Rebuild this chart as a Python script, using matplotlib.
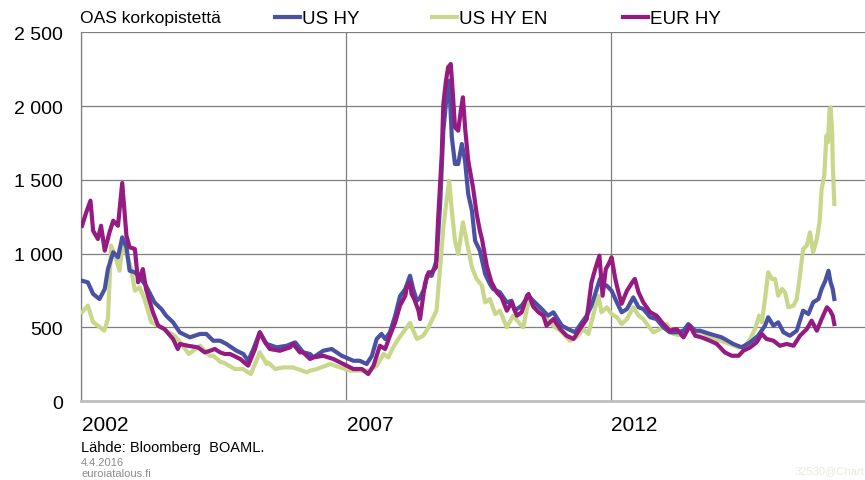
import numpy as np
import matplotlib.pyplot as plt
from matplotlib.lines import Line2D
from matplotlib.ticker import FuncFormatter

plt.rcParams['font.family'] = ['Liberation Sans', 'DejaVu Sans']

# OAS spreads, basis points, x = decimal year
us_hy_t = [2002.01, 2002.12, 2002.22, 2002.34, 2002.44, 2002.50, 2002.60, 2002.69, 2002.77, 2002.85,
           2002.91, 2003.01, 2003.10, 2003.22, 2003.38, 2003.51, 2003.60, 2003.73, 2003.86, 2004.05,
           2004.24, 2004.36, 2004.49, 2004.62, 2004.74, 2004.93, 2005.06, 2005.15, 2005.25, 2005.37,
           2005.50, 2005.69, 2005.88, 2006.04, 2006.19, 2006.32, 2006.38, 2006.57, 2006.73, 2006.92,
           2007.14, 2007.26, 2007.39, 2007.49, 2007.58, 2007.67, 2007.74, 2007.83, 2007.93, 2008.02,
           2008.12, 2008.21, 2008.27, 2008.34, 2008.40, 2008.49, 2008.53, 2008.62, 2008.71, 2008.78,
           2008.84, 2008.90, 2008.95, 2009.00, 2009.06, 2009.12, 2009.19, 2009.25, 2009.31, 2009.38,
           2009.44, 2009.53, 2009.63, 2009.72, 2009.78, 2009.85, 2009.91, 2010.04, 2010.13, 2010.19,
           2010.32, 2010.45, 2010.57, 2010.70, 2010.82, 2010.92, 2011.08, 2011.20, 2011.33, 2011.46,
           2011.55, 2011.64, 2011.74, 2011.80, 2011.86, 2011.93, 2012.02, 2012.12, 2012.21, 2012.31,
           2012.43, 2012.53, 2012.62, 2012.75, 2012.87, 2013.00, 2013.12, 2013.25, 2013.38, 2013.47,
           2013.60, 2013.69, 2013.88, 2014.10, 2014.32, 2014.48, 2014.64, 2014.79, 2014.92, 2014.98,
           2015.08, 2015.17, 2015.27, 2015.39, 2015.52, 2015.64, 2015.74, 2015.83, 2015.93, 2015.99,
           2016.06, 2016.12, 2016.16, 2016.20, 2016.23]
us_hy = [816, 805, 726, 692, 760, 895, 1009, 975, 1110, 1043,
         884, 873, 839, 782, 669, 624, 579, 534, 465, 432,
         455, 455, 409, 409, 387, 341, 319, 273, 353, 466,
         387, 364, 375, 398, 330, 319, 296, 341, 353, 307,
         273, 273, 251, 307, 421, 455, 421, 466, 579, 710,
         760, 850, 760, 680, 700, 771, 850, 850, 952, 1336,
         1834, 2060, 2173, 1789, 1608, 1608, 1743, 1630, 1404, 1291,
         1087, 1020, 862, 794, 760, 748, 737, 669, 680, 613,
         647, 714, 669, 624, 579, 602, 511, 488, 466, 534,
         579, 647, 760, 828, 794, 782, 748, 669, 602, 624,
         703, 636, 624, 568, 556, 500, 466, 466, 477, 522,
         477, 477, 455, 432, 387, 364, 398, 443, 511, 568,
         511, 534, 466, 443, 477, 613, 590, 669, 692, 760,
         816, 884, 805, 760, 692]

us_hy_en_t = [2002.01, 2002.12, 2002.22, 2002.31, 2002.43, 2002.50, 2002.56, 2002.63, 2002.72, 2002.78,
              2002.85, 2002.94, 2003.01, 2003.10, 2003.19, 2003.32, 2003.45, 2003.60, 2003.76, 2003.89,
              2004.03, 2004.20, 2004.24, 2004.42, 2004.49, 2004.64, 2004.68, 2004.90, 2005.05, 2005.20,
              2005.28, 2005.37, 2005.50, 2005.53, 2005.66, 2005.81, 2006.00, 2006.26, 2006.32, 2006.45,
              2006.70, 2006.89, 2007.08, 2007.26, 2007.45, 2007.58, 2007.71, 2007.80, 2007.89, 2007.99,
              2008.08, 2008.21, 2008.34, 2008.40, 2008.46, 2008.56, 2008.71, 2008.78, 2008.84, 2008.90,
              2008.95, 2009.00, 2009.06, 2009.12, 2009.21, 2009.28, 2009.38, 2009.47, 2009.57, 2009.63,
              2009.72, 2009.82, 2009.91, 2010.04, 2010.16, 2010.29, 2010.35, 2010.45, 2010.54, 2010.67,
              2010.79, 2010.92, 2011.05, 2011.17, 2011.23, 2011.30, 2011.36, 2011.49, 2011.58, 2011.67,
              2011.77, 2011.83, 2011.93, 2012.02, 2012.12, 2012.21, 2012.31, 2012.43, 2012.53, 2012.62,
              2012.71, 2012.81, 2012.94, 2013.06, 2013.19, 2013.35, 2013.47, 2013.60, 2013.75, 2013.91,
              2014.07, 2014.26, 2014.42, 2014.54, 2014.64, 2014.73, 2014.81, 2014.86, 2014.92, 2014.98,
              2015.05, 2015.11, 2015.17, 2015.24, 2015.30, 2015.36, 2015.46, 2015.52, 2015.58, 2015.64,
              2015.71, 2015.77, 2015.83, 2015.90, 2015.95, 2015.99, 2016.04, 2016.08, 2016.11, 2016.14,
              2016.16, 2016.19, 2016.20, 2016.23]
us_hy_en = [602, 647, 534, 511, 477, 556, 1054, 986, 884, 1077,
            997, 895, 748, 771, 692, 534, 511, 477, 443, 387,
            319, 364, 375, 307, 307, 262, 262, 217, 217, 183,
            251, 330, 251, 262, 217, 228, 228, 195, 206, 217,
            251, 228, 206, 206, 206, 240, 319, 296, 364, 421,
            466, 530, 421, 432, 443, 500, 613, 907, 1178, 1359,
            1495, 1291, 1087, 997, 1212, 1087, 907, 828, 782, 669,
            692, 590, 613, 500, 579, 522, 500, 680, 647, 610,
            556, 511, 477, 432, 409, 421, 432, 488, 455, 579,
            714, 602, 636, 590, 568, 522, 556, 636, 579, 556,
            511, 466, 488, 522, 455, 443, 511, 466, 466, 421,
            409, 387, 364, 375, 421, 488, 579, 534, 692, 873,
            828, 828, 714, 760, 737, 636, 647, 692, 850, 1031,
            1054, 1144, 1009, 1099, 1212, 1438, 1528, 1800, 1755, 1981,
            1992, 1823, 1619, 1336]

eur_hy_t = [2002.01, 2002.09, 2002.17, 2002.22, 2002.31, 2002.37, 2002.44, 2002.53, 2002.60, 2002.69,
            2002.77, 2002.85, 2002.91, 2003.01, 2003.07, 2003.16, 2003.22, 2003.35, 2003.45, 2003.57,
            2003.73, 2003.82, 2003.86, 2004.01, 2004.20, 2004.33, 2004.43, 2004.52, 2004.62, 2004.71,
            2004.81, 2005.00, 2005.15, 2005.28, 2005.37, 2005.47, 2005.56, 2005.75, 2005.94, 2006.00,
            2006.13, 2006.19, 2006.32, 2006.38, 2006.57, 2006.76, 2006.95, 2007.14, 2007.30, 2007.42,
            2007.52, 2007.64, 2007.74, 2007.83, 2007.93, 2008.02, 2008.12, 2008.15, 2008.21, 2008.24,
            2008.29, 2008.37, 2008.40, 2008.49, 2008.56, 2008.62, 2008.70, 2008.74, 2008.81, 2008.84,
            2008.89, 2008.93, 2008.98, 2009.02, 2009.06, 2009.12, 2009.17, 2009.21, 2009.25, 2009.31,
            2009.40, 2009.47, 2009.53, 2009.57, 2009.66, 2009.75, 2009.85, 2009.94, 2010.04, 2010.13,
            2010.23, 2010.32, 2010.42, 2010.45, 2010.54, 2010.64, 2010.73, 2010.79, 2010.92, 2011.05,
            2011.17, 2011.30, 2011.42, 2011.55, 2011.64, 2011.71, 2011.79, 2011.85, 2011.91, 2011.98,
            2012.02, 2012.09, 2012.15, 2012.21, 2012.31, 2012.43, 2012.46, 2012.53, 2012.62, 2012.75,
            2012.87, 2013.00, 2013.12, 2013.25, 2013.38, 2013.50, 2013.60, 2013.72, 2013.88, 2014.01,
            2014.16, 2014.29, 2014.42, 2014.51, 2014.64, 2014.76, 2014.86, 2014.95, 2015.08, 2015.20,
            2015.33, 2015.46, 2015.58, 2015.71, 2015.80, 2015.90, 2015.99, 2016.09, 2016.15, 2016.20,
            2016.23]
eur_hy = [1189, 1280, 1359, 1155, 1099, 1189, 1020, 1144, 1223, 1189,
          1479, 1121, 1043, 1031, 805, 895, 760, 602, 511, 488,
          421, 353, 387, 375, 364, 330, 341, 353, 330, 319,
          319, 285, 240, 353, 466, 398, 353, 341, 364, 387,
          330, 330, 285, 296, 307, 285, 251, 217, 217, 183,
          240, 375, 353, 443, 534, 647, 714, 771, 805, 726,
          692, 613, 556, 794, 873, 873, 907, 1223, 1676, 2015,
          2173, 2264, 2286, 2083, 1857, 1834, 1969, 2060, 1857, 1630,
          1450, 1269, 1155, 1099, 918, 805, 737, 703, 613, 669,
          579, 602, 714, 726, 640, 602, 579, 511, 556, 488,
          443, 421, 488, 556, 805, 895, 986, 714, 895, 941,
          975, 828, 737, 660, 748, 816, 828, 737, 669, 602,
          579, 522, 477, 488, 432, 511, 443, 432, 409, 387,
          330, 307, 307, 341, 364, 398, 455, 421, 409, 375,
          387, 375, 443, 488, 545, 477, 556, 636, 613, 579,
          522]

labels = ['US HY', 'US HY EN', 'EUR HY']
colors = ['#4A51A3', '#C9D78B', '#951A82']
yticks = [0, 500, 1000, 1500, 2000, 2500]
year_labels = [2002, 2007, 2012]

fig = plt.figure(figsize=(8.65, 4.81), dpi=100)
ax = fig.add_axes([0.0942, 0.1642, 0.9058, 0.7662])

ax.plot(us_hy_en_t, us_hy_en, color=colors[1], lw=3.0, zorder=3, solid_joinstyle='round')
ax.plot(us_hy_t, us_hy, color=colors[0], lw=3.0, zorder=4, solid_joinstyle='round')
ax.plot(eur_hy_t, eur_hy, color=colors[2], lw=3.0, zorder=5, solid_joinstyle='round')

ax.set_xlim(2002, 2016.81)
ax.set_ylim(0, 2500)
ax.set_yticks(yticks)
ax.yaxis.set_major_formatter(FuncFormatter(lambda v, p: f'{int(v):,}'.replace(',', ' ')))
ax.set_xticks(year_labels)
ax.set_xticklabels([])
ax.tick_params(axis='both', length=0, labelsize=14, colors='black')
ax.tick_params(axis='y', pad=13.5)
for y in year_labels:
    ax.text(y + 0.01, -160, str(y), ha='left', va='center', fontsize=15)

ax.grid(True, color='#7f7f7f', lw=0.9)
ax.set_axisbelow(True)
for s in ['top', 'right']:
    ax.spines[s].set_visible(False)
ax.spines['left'].set_color('#7f7f7f')
ax.spines['left'].set_linewidth(0.9)
ax.spines['bottom'].set_color('#bfbfbf')
ax.spines['bottom'].set_linewidth(2)

# header: unit and legend
fig.text(80 / 865, 1 - 19 / 481, 'OAS korkopistettä', fontsize=12.6, va='center', ha='left')
leg_x = [275, 432, 623]
for lx, lab, c in zip(leg_x, labels, colors):
    fig.add_artist(Line2D([lx / 865, (lx + 25) / 865], [1 - 18 / 481] * 2, color=c, lw=3,
                          transform=fig.transFigure))
    fig.text((lx + 27) / 865, 1 - 19 / 481, lab, fontsize=13.5, va='center', ha='left')

# footer
fig.text(81 / 865, 1 - 448 / 481, 'Lähde: Bloomberg  BOAML.', fontsize=10.5, va='center')
fig.text(81 / 865, 1 - 463 / 481, '4.4.2016', fontsize=8, va='center', color='#8c8c8c')
fig.text(81 / 865, 1 - 474 / 481, 'euroiatalous.fi', fontsize=8, va='center', color='#8c8c8c')
fig.text(864 / 865, 1 - 471 / 481, '32530@Chart', fontsize=8, va='center', ha='right', color='#e8ecdc')

fig.savefig('out.png', dpi=100)
